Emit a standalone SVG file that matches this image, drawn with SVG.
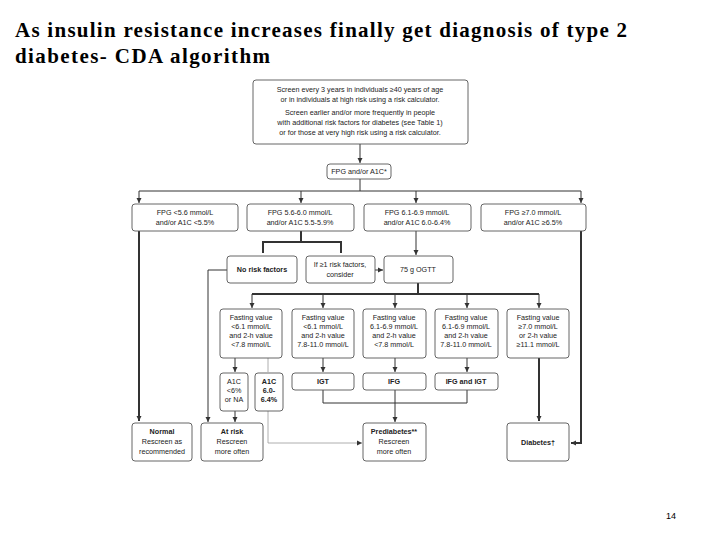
<svg xmlns="http://www.w3.org/2000/svg" width="720" height="540" viewBox="0 0 720 540">
<defs>
<marker id="ah" markerWidth="6" markerHeight="6" refX="5" refY="3" orient="auto" markerUnits="userSpaceOnUse"><path d="M0,0.5 L5,3 L0,5.5 z" fill="#333"/></marker>
<style>
.b{fill:#fff;stroke:#555;stroke-width:0.9}
.t{font-family:"Liberation Sans",Arial,sans-serif;font-size:7.2px;fill:#222;text-anchor:middle}
.bo{font-weight:bold}
.c{fill:none;stroke:#333;stroke-width:1}
.k{fill:none;stroke:#333;stroke-width:2}
.g{fill:none;stroke:#999;stroke-width:0.8}
.ti{font-family:"Liberation Serif","Times New Roman",serif;font-size:21px;font-weight:bold;fill:#000}
</style>
</defs>
<rect width="720" height="540" fill="#fff"/>
<text class="ti" x="15" y="37" textLength="612" lengthAdjust="spacing">As insulin resistance increases finally get diagnosis of type 2</text>
<text class="ti" x="15" y="63" textLength="255" lengthAdjust="spacing">diabetes- CDA algorithm</text>
<text x="666" y="519" font-family="Liberation Sans,sans-serif" font-size="9" fill="#000">14</text>
<g id="connectors">
<path class="c" d="M360,144 V163" marker-end="url(#ah)"/>
<path class="c" d="M360,179 V191 M139,191 H581"/>
<path class="c" d="M139,191 V203" marker-end="url(#ah)"/>
<path class="c" d="M301,191 V203" marker-end="url(#ah)"/>
<path class="c" d="M416,191 V203" marker-end="url(#ah)"/>
<path class="c" d="M581,191 V203" marker-end="url(#ah)"/>
<path class="k" d="M301,231 V242 H263 V253 M301,242 H341 V253"/>
<path class="c" d="M416,231 V255" marker-end="url(#ah)"/>
<path class="c" d="M375,270 H383" marker-end="url(#ah)"/>
<path class="c" d="M227,270 H208 V422" marker-end="url(#ah)"/>
<path class="k" d="M418,283 V294 H252 M418,294 H539"/>
<path class="c" d="M252,294 V308" marker-end="url(#ah)"/>
<path class="c" d="M323,294 V308" marker-end="url(#ah)"/>
<path class="c" d="M395,294 V308" marker-end="url(#ah)"/>
<path class="c" d="M467,294 V308" marker-end="url(#ah)"/>
<path class="c" d="M539,294 V308" marker-end="url(#ah)"/>
<path class="c" d="M235,358 V372" marker-end="url(#ah)"/>
<path class="g" d="M268,358 V372"/>
<path class="c" d="M323,358 V372" marker-end="url(#ah)"/>
<path class="c" d="M395,358 V372" marker-end="url(#ah)"/>
<path class="c" d="M467,358 V372" marker-end="url(#ah)"/>
<path class="c" d="M323,390 V403 H467 V390 M395,390 V422" marker-end="url(#ah)"/>
<path class="c" d="M235,411 V422" marker-end="url(#ah)"/>
<path class="g" d="M268,411 V443 H362" marker-end="url(#ah)"/>
<path class="k" d="M139,231 V421" marker-end="url(#ah)"/>
<path class="k" d="M539,358 V421" marker-end="url(#ah)"/>
<path class="k" d="M581,231 V443 H571" marker-end="url(#ah)"/>
</g>
<g id="n_top"><rect class="b" x="253" y="80" width="215" height="64" rx="3"/>
<text class="t" x="360" y="92">Screen every 3 years in individuals ≥40 years of age</text>
<text class="t" x="360" y="102">or in individuals at high risk using a risk calculator.</text>
<text class="t" x="360" y="115">Screen earlier and/or more frequently in people</text>
<text class="t" x="360" y="125">with additional risk factors for diabetes (see Table 1)</text>
<text class="t" x="360" y="135">or for those at very high risk using a risk calculator.</text></g>
<g id="n_fpg"><rect class="b" x="327" y="164" width="64" height="15" rx="3"/><text class="t" x="359" y="174">FPG and/or A1C*</text></g>
<g id="n_r1"><rect class="b" x="132" y="204" width="106" height="27" rx="3"/><text class="t" x="185" y="215">FPG &lt;5.6 mmol/L</text><text class="t" x="185" y="225">and/or A1C &lt;5.5%</text></g>
<g id="n_r2"><rect class="b" x="247" y="204" width="107" height="27" rx="3"/><text class="t" x="300" y="215">FPG 5.6-6.0 mmol/L</text><text class="t" x="300" y="225">and/or A1C 5.5-5.9%</text></g>
<g id="n_r3"><rect class="b" x="364" y="204" width="107" height="27" rx="3"/><text class="t" x="417" y="215">FPG 6.1-6.9 mmol/L</text><text class="t" x="417" y="225">and/or A1C 6.0-6.4%</text></g>
<g id="n_r4"><rect class="b" x="481" y="204" width="105" height="27" rx="3"/><text class="t" x="533" y="215">FPG ≥7.0 mmol/L</text><text class="t" x="533" y="225">and/or A1C ≥6.5%</text></g>
<g id="n_norisk"><rect class="b" x="227" y="256" width="70" height="27" rx="3"/><text class="t bo" x="262" y="272">No risk factors</text></g>
<g id="n_if"><rect class="b" x="306" y="256" width="69" height="27" rx="3"/><text class="t" x="340" y="267">If ≥1 risk factors,</text><text class="t" x="340" y="277">consider</text></g>
<g id="n_ogtt"><rect class="b" x="384" y="256" width="69" height="27" rx="3"/><text class="t" x="418" y="272">75 g OGTT</text></g>
<g id="n_f1"><rect class="b" x="220" y="309" width="62" height="49" rx="3"/><text class="t" x="251" y="320">Fasting value</text><text class="t" x="251" y="329">&lt;6.1 mmol/L</text><text class="t" x="251" y="338">and 2-h value</text><text class="t" x="251" y="347">&lt;7.8 mmol/L</text></g>
<g id="n_f2"><rect class="b" x="292" y="309" width="62" height="49" rx="3"/><text class="t" x="323" y="320">Fasting value</text><text class="t" x="323" y="329">&lt;6.1 mmol/L</text><text class="t" x="323" y="338">and 2-h value</text><text class="t" x="323" y="347">7.8-11.0 mmol/L</text></g>
<g id="n_f3"><rect class="b" x="363" y="309" width="63" height="49" rx="3"/><text class="t" x="394" y="320">Fasting value</text><text class="t" x="394" y="329">6.1-6.9 mmol/L</text><text class="t" x="394" y="338">and 2-h value</text><text class="t" x="394" y="347">&lt;7.8 mmol/L</text></g>
<g id="n_f4"><rect class="b" x="435" y="309" width="63" height="49" rx="3"/><text class="t" x="466" y="320">Fasting value</text><text class="t" x="466" y="329">6.1-6.9 mmol/L</text><text class="t" x="466" y="338">and 2-h value</text><text class="t" x="466" y="347">7.8-11.0 mmol/L</text></g>
<g id="n_f5"><rect class="b" x="507" y="309" width="62" height="49" rx="3"/><text class="t" x="538" y="320">Fasting value</text><text class="t" x="538" y="329">≥7.0 mmol/L</text><text class="t" x="538" y="338">or 2-h value</text><text class="t" x="538" y="347">≥11.1 mmol/L</text></g>
<g id="n_a1"><rect class="b" x="220" y="373" width="28" height="38" rx="3"/><text class="t" x="234" y="384">A1C</text><text class="t" x="234" y="393">&lt;6%</text><text class="t" x="234" y="402">or NA</text></g>
<g id="n_a2"><rect class="b" x="255" y="373" width="28" height="38" rx="3"/><text class="t bo" x="269" y="384">A1C</text><text class="t bo" x="269" y="393">6.0-</text><text class="t bo" x="269" y="402">6.4%</text></g>
<g id="n_igt"><rect class="b" x="292" y="373" width="62" height="17" rx="3"/><text class="t bo" x="323" y="384">IGT</text></g>
<g id="n_ifg"><rect class="b" x="363" y="373" width="63" height="17" rx="3"/><text class="t bo" x="394" y="384">IFG</text></g>
<g id="n_ifgigt"><rect class="b" x="435" y="373" width="63" height="17" rx="3"/><text class="t bo" x="466" y="384">IFG and IGT</text></g>
<g id="n_normal"><rect class="b" x="132" y="423" width="60" height="38" rx="3"/><text class="t bo" x="162" y="434">Normal</text><text class="t" x="162" y="444">Rescreen as</text><text class="t" x="162" y="454">recommended</text></g>
<g id="n_atrisk"><rect class="b" x="201" y="423" width="62" height="38" rx="3"/><text class="t bo" x="232" y="434">At risk</text><text class="t" x="232" y="444">Rescreen</text><text class="t" x="232" y="454">more often</text></g>
<g id="n_pre"><rect class="b" x="363" y="423" width="63" height="38" rx="3"/><text class="t bo" x="394" y="434">Prediabetes**</text><text class="t" x="394" y="444">Rescreen</text><text class="t" x="394" y="454">more often</text></g>
<g id="n_diab"><rect class="b" x="507" y="423" width="62" height="38" rx="3"/><text class="t bo" x="538" y="445">Diabetes†</text></g>
</svg>
